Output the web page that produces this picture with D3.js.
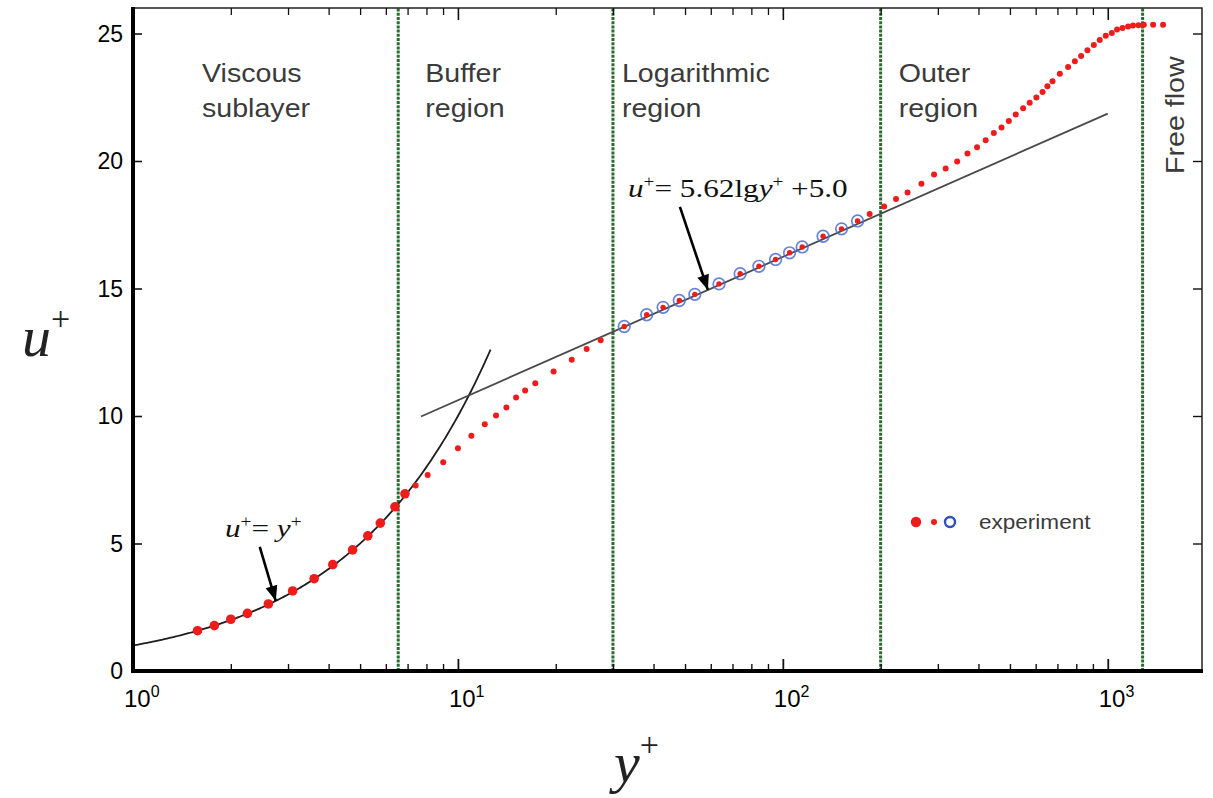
<!DOCTYPE html>
<html><head><meta charset="utf-8">
<script src="https://cdn.jsdelivr.net/npm/d3@7"></script>
<style>body{margin:0;background:#fff} svg{display:block}</style>
</head><body>
<svg id="chart" width="1213" height="798"></svg>
<script>
// Mean velocity profile of a turbulent boundary layer in wall units (y+, u+)
const viscousYPlus = [1.58, 1.78, 2.00, 2.25, 2.61, 3.10, 3.61, 4.12, 4.74, 5.28, 5.77, 6.40, 6.87];
const viscousUPlus = [1.58, 1.78, 2.03, 2.26, 2.63, 3.14, 3.62, 4.17, 4.75, 5.30, 5.80, 6.44, 6.95];

const bufferYPlus = [7.41, 8.07, 9.01, 10.0, 11.0, 12.1, 13.1, 14.1, 15.1, 16.1, 17.3, 19.7, 22.4, 24.9, 27.5];
const bufferUPlus = [7.27, 7.69, 8.19, 8.74, 9.23, 9.68, 10.02, 10.33, 10.73, 11.00, 11.28, 11.75, 12.21, 12.63, 12.97];

const logYPlus = [32.5, 38.1, 42.8, 48.0, 53.6, 63.6, 73.9, 84.4, 95.0, 104.9, 114.7, 133.0, 151.6, 169.8];
const logUPlus = [13.51, 13.97, 14.26, 14.53, 14.77, 15.18, 15.58, 15.87, 16.14, 16.40, 16.63, 17.05, 17.34, 17.65];

const outerYPlus = [185, 205, 223, 242, 267, 292, 317, 344, 370, 396, 421, 446, 471, 496, 521, 549, 575, 603,
  630, 652, 676, 712, 755, 792, 828, 866, 906, 945, 986, 1029, 1068, 1110, 1155, 1196, 1243, 1291, 1379, 1480];
const outerUPlus = [17.92, 18.22, 18.51, 18.76, 19.11, 19.47, 19.71, 19.98, 20.29, 20.54, 20.81, 21.10, 21.31, 21.57,
  21.82, 22.07, 22.28, 22.49, 22.71, 22.93, 23.13, 23.42, 23.69, 23.91, 24.12, 24.34, 24.55, 24.75, 24.91, 25.02,
  25.16, 25.22, 25.27, 25.31, 25.32, 25.34, 25.34, 25.34];

// Region boundaries (y+) and their names
const regionBounds = [6.55, 30, 200, 1280];
const regionNames = [["Viscous", "sublayer"], ["Buffer", "region"], ["Logarithmic", "region"], ["Outer", "region"]];
const freeFlowName = "Free flow";

// Wall laws: u+ = y+ and u+ = 5.62 lg y+ + 5.0
const viscousLawRange = [1, 12.6];
const logLawRange = [7.7, 1000];
const logLawSlope = 5.62;
const logLawIntercept = 5.0;

// Axis ticks
const xMajorTicks = [1, 10, 100, 1000];
const xMajorExponents = ["0", "1", "2", "3"];
const xMinorTicks = [2, 3, 4, 5, 6, 7, 8, 9, 20, 30, 40, 50, 60, 70, 80, 90, 200, 300, 400, 500, 600, 700, 800, 900];
const yTicks = [0, 5, 10, 15, 20, 25];

const W = 1213, H = 798;
const margin = {left: 133, right: 11, top: 8, bottom: 127};
const svg = d3.select("#chart");

const x = d3.scaleLog().domain([1, 1950]).range([margin.left, W - margin.right]);
const y = d3.scaleLinear().domain([0, 26]).range([H - margin.bottom, margin.top]);

const RED = "#ef1b1b", BLUE = "#4a6fd0", GREEN = "#2b6b2f";
const SANS = "'Liberation Sans', Arial, Helvetica, sans-serif";
const SERIF = "'Liberation Serif', 'Times New Roman', serif";

// Slight softening for the markers
const defs = svg.append("defs");
defs.append("filter").attr("id", "soft").append("feGaussianBlur").attr("stdDeviation", 0.45);

const plot = svg.append("g");

// Region boundary lines
plot.selectAll("line.bound").data(regionBounds).join("line")
  .attr("class", "bound")
  .attr("x1", d => x(d)).attr("x2", d => x(d))
  .attr("y1", y(0)).attr("y2", y(26))
  .attr("stroke", GREEN).attr("stroke-width", 3).attr("stroke-dasharray", "3,1.2");

// Region labels (slightly widened sans text)
function sansLabel(g, px, py, str, size, rotate, sx) {
  return g.append("text")
    .attr("transform", `translate(${px},${py})` + (rotate ? ` rotate(${rotate})` : "") + ` scale(${sx || 1.1},1)`)
    .attr("font-family", SANS).attr("font-size", size).attr("fill", "#3b3b3b")
    .text(str);
}
const labelX = [x(1) + 69, x(regionBounds[0]) + 27, x(regionBounds[1]) + 9, x(regionBounds[2]) + 18];
regionNames.forEach((lines, i) => {
  sansLabel(plot, labelX[i], 82, lines[0], 26);
  sansLabel(plot, labelX[i], 117, lines[1], 26);
});
sansLabel(plot, x(regionBounds[3]) + 41, 174, freeFlowName, 26, -90);

// Wall-law curves
const lawLine = d3.line().x(d => x(d[0])).y(d => y(d[1]));
const viscousLaw = d3.range(0, 201).map(i => {
  const yp = viscousLawRange[0] * Math.pow(viscousLawRange[1] / viscousLawRange[0], i / 200);
  return [yp, yp];
});
const logLaw = [logLawRange[0], logLawRange[1]].map(yp => [yp, logLawSlope * Math.log10(yp) + logLawIntercept]);
plot.append("path").attr("d", lawLine(viscousLaw)).attr("fill", "none")
  .attr("stroke", "#1e1e1e").attr("stroke-width", 1.8);
plot.append("path").attr("d", lawLine(logLaw)).attr("fill", "none")
  .attr("stroke", "#4a4a4a").attr("stroke-width", 1.8);

// Measured profile
const zip = (a, b) => a.map((v, i) => [v, b[i]]);
const marks = plot.append("g").attr("filter", "url(#soft)");
marks.selectAll("circle.visc").data(zip(viscousYPlus, viscousUPlus)).join("circle")
  .attr("cx", d => x(d[0])).attr("cy", d => y(d[1])).attr("r", 4.8).attr("fill", RED);
marks.selectAll("circle.buf").data(zip(bufferYPlus, bufferUPlus).concat(zip(outerYPlus, outerUPlus))).join("circle")
  .attr("cx", d => x(d[0])).attr("cy", d => y(d[1])).attr("r", 3).attr("fill", RED);
const logPts = zip(logYPlus, logUPlus);
marks.selectAll("circle.logring").data(logPts).join("circle")
  .attr("cx", d => x(d[0])).attr("cy", d => y(d[1])).attr("r", 5.8)
  .attr("fill", "none").attr("stroke", BLUE).attr("stroke-width", 1.7).attr("stroke-opacity", 0.85);
marks.selectAll("circle.logdot").data(logPts).join("circle")
  .attr("cx", d => x(d[0])).attr("cy", d => y(d[1])).attr("r", 2.7).attr("fill", RED);

// Annotations with arrows
function arrow(tipX, tipY, tailX, tailY) {
  plot.append("line").attr("x1", tailX).attr("y1", tailY).attr("x2", tipX).attr("y2", tipY)
    .attr("stroke", "#000").attr("stroke-width", 2.6);
  const ang = Math.atan2(tipY - tailY, tipX - tailX);
  const L = 15, Wd = 6;
  const bx = tipX - L * Math.cos(ang), by = tipY - L * Math.sin(ang);
  const px = -Math.sin(ang) * Wd, py = Math.cos(ang) * Wd;
  plot.append("path").attr("d", `M${tipX},${tipY}L${bx + px},${by + py}L${bx - px},${by - py}Z`).attr("fill", "#000");
}
const tip1 = [x(2.75), y(2.75)];
arrow(tip1[0], tip1[1], tip1[0] - 16, tip1[1] - 54);
const tip2yp = 58.8;
const tip2 = [x(tip2yp), y(logLawSlope * Math.log10(tip2yp) + logLawIntercept)];
arrow(tip2[0], tip2[1], tip2[0] - 28, tip2[1] - 83);

function eqText(px, py, parts) {
  const t = plot.append("text").attr("transform", `translate(${px},${py}) scale(1.2,1)`)
    .attr("font-family", SERIF).attr("font-size", 26).attr("fill", "#111");
  parts.forEach(p => {
    const s = t.append("tspan").text(p.t);
    if (p.i) s.attr("font-style", "italic");
    if (p.sup) s.attr("font-size", 16).attr("dy", -10);
    if (p.down) s.attr("dy", 10);
  });
}
eqText(225, 537, [{t: "u", i: 1}, {t: "+", sup: 1}, {t: "= ", down: 1}, {t: "y", i: 1}, {t: "+", sup: 1}]);
eqText(628, 197, [{t: "u", i: 1}, {t: "+", sup: 1}, {t: "= 5.62lg", down: 1}, {t: "y", i: 1}, {t: "+", sup: 1}, {t: " +5.0", down: 1}]);

// Legend
plot.append("circle").attr("cx", 916).attr("cy", 522).attr("r", 5.2).attr("fill", RED);
plot.append("circle").attr("cx", 934).attr("cy", 522).attr("r", 3).attr("fill", RED);
plot.append("circle").attr("cx", 950).attr("cy", 522).attr("r", 5).attr("fill", "none").attr("stroke", "#2f4fbf").attr("stroke-width", 2.4);
sansLabel(plot, 979, 529, "experiment", 20.5, 0, 1.1);

// Frame and axes
const axG = svg.append("g");
axG.append("rect").attr("x", x(1)).attr("y", y(26)).attr("width", x(1950) - x(1)).attr("height", y(0) - y(26))
  .attr("fill", "none").attr("stroke", "#222").attr("stroke-width", 1.5);

function styleAxis(g, w) {
  g.select(".domain").remove();
  g.selectAll(".tick line").attr("stroke", "#111").attr("stroke-width", w);
  g.selectAll(".tick text").remove();
}
axG.append("g").attr("transform", `translate(0,${y(0)})`)
  .call(d3.axisBottom(x).tickValues(xMajorTicks).tickSize(-12)).call(g => styleAxis(g, 1.8));
axG.append("g").attr("transform", `translate(0,${y(0)})`)
  .call(d3.axisBottom(x).tickValues(xMinorTicks).tickSize(-7)).call(g => styleAxis(g, 1.4));
axG.append("g").attr("transform", `translate(0,${y(26)})`)
  .call(d3.axisTop(x).tickValues(xMajorTicks.slice(1)).tickSize(-12)).call(g => styleAxis(g, 1.6));
axG.append("g").attr("transform", `translate(0,${y(26)})`)
  .call(d3.axisTop(x).tickValues(xMinorTicks).tickSize(-7)).call(g => styleAxis(g, 1.3));
axG.append("g").attr("transform", `translate(${x(1)},0)`)
  .call(d3.axisLeft(y).tickValues(yTicks).tickSize(-9)).call(g => styleAxis(g, 1.6));
axG.append("g").attr("transform", `translate(${x(1950)},0)`)
  .call(d3.axisRight(y).tickValues(yTicks).tickSize(-9)).call(g => styleAxis(g, 1.4));

// Thick left and bottom spines
axG.append("line").attr("x1", x(1)).attr("x2", x(1)).attr("y1", y(26) - 1).attr("y2", y(0) + 2)
  .attr("stroke", "#000").attr("stroke-width", 4);
axG.append("line").attr("x1", x(1) - 2).attr("x2", x(1950) + 1).attr("y1", y(0)).attr("y2", y(0))
  .attr("stroke", "#000").attr("stroke-width", 4);

// Tick labels
yTicks.forEach(v => {
  axG.append("text").attr("x", x(1) - 10).attr("y", y(v) + 8).attr("text-anchor", "end")
    .attr("font-family", SANS).attr("font-size", 23).attr("fill", "#000").text(v);
});
xMajorTicks.forEach((v, i) => {
  const t = axG.append("text").attr("x", x(v) - 9).attr("y", 707)
    .attr("font-family", SANS).attr("font-size", 24).attr("fill", "#000");
  t.append("tspan").text("10");
  t.append("tspan").attr("dy", -10).attr("font-size", 16).text(xMajorExponents[i]);
});

// Axis titles
const yt = axG.append("text").attr("transform", `translate(22,356)`)
  .attr("font-family", SERIF).attr("font-style", "italic").attr("font-size", 58).attr("fill", "#222");
yt.append("tspan").text("u");
yt.append("tspan").attr("font-style", "normal").attr("font-size", 34).attr("dy", -26).text("+");
const xt = axG.append("text").attr("transform", `translate(614,782)`)
  .attr("font-family", SERIF).attr("font-style", "italic").attr("font-size", 58).attr("fill", "#222");
xt.append("tspan").text("y");
xt.append("tspan").attr("font-style", "normal").attr("font-size", 34).attr("dy", -26).text("+");
</script>
</body></html>
